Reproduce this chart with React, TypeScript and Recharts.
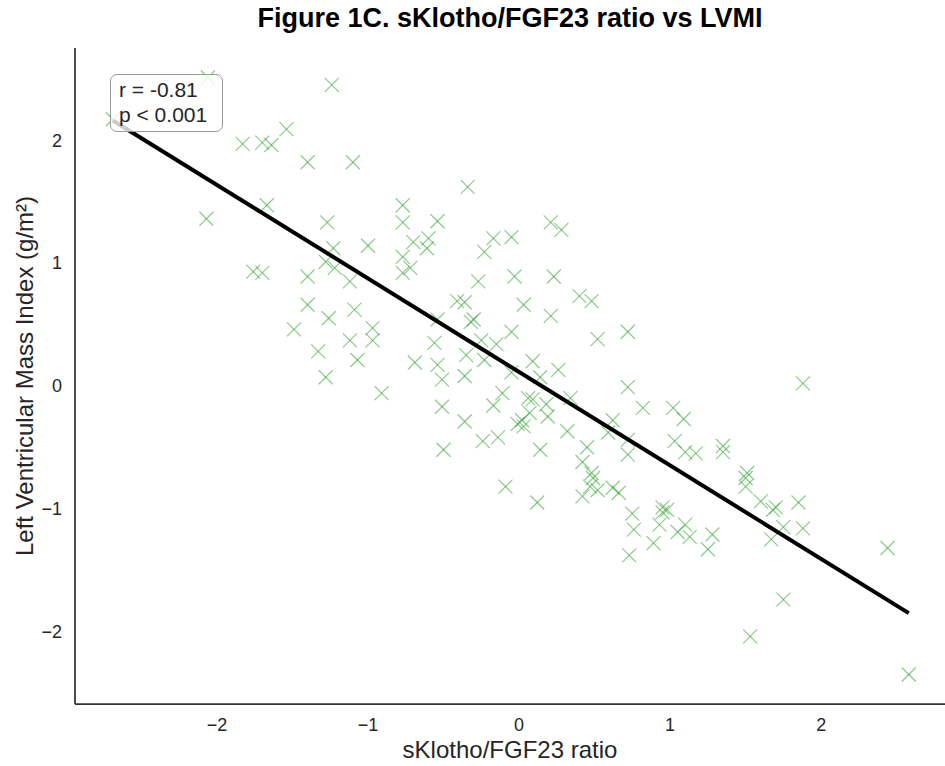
import { ScatterChart, Scatter, XAxis, YAxis } from 'recharts'

// values
const ratioX = [
  -2.06, -1.24, -2.69, -1.83, -1.70, -1.64, -1.54, -1.40, -1.10, -0.34,
  -2.07, -1.67, -1.27, -0.77, -0.77, -0.54, 0.21, 0.28, -0.17, -0.05,
  -0.70, -0.60, -0.61, -1.00, -1.23, -1.28, -1.22, -0.23, -0.77, -0.72,
  -0.77, -1.76, -1.70, -1.40, -1.12, -0.03, 0.23, -0.27, -1.40, -1.09,
  -1.26, -1.49, -1.12, -0.97, -1.33, -1.07, -1.28, -0.97, 0.40, 0.48,
  -0.41, -0.36, 0.03, 0.21, -0.30, -0.32, 0.72, 0.52, -0.05, -0.54,
  -0.56, -0.25, -0.15, -0.35, -0.23, -0.69, -0.54, 0.09, 0.26, -0.05,
  -0.36, -0.51, 0.14, -0.91, -0.11, 0.72, 0.06, 0.09, 0.34, 0.18,
  -0.51, -0.17, 0.82, 0.07, 0.19, 0.02, -0.36, -0.01, 0.62, 0.32,
  0.03, 0.59, -0.24, -0.14, 0.72, 0.45, 0.14, -0.50, 0.72, 0.42,
  0.48, 0.49, 0.47, 0.52, -0.09, 0.62, 0.66, 0.42, 0.12, 1.88,
  1.02, 1.09, 1.03, 1.10, 1.17, 1.35, 1.35, 1.51, 1.50, 1.50,
  1.60, 1.70, 1.85, 0.95, 0.95, 0.98, 0.93, 1.10, 1.05, 1.13,
  1.28, 1.25, 0.89, 1.68, 1.75, 1.88, 1.67, 2.44, 1.75, 1.53,
  2.58, 0.75, 0.76, 0.73,
]
const lvmiY = [
  2.51, 2.45, 2.17, 1.97, 1.98, 1.96, 2.09, 1.82, 1.82, 1.62,
  1.36, 1.47, 1.33, 1.47, 1.33, 1.34, 1.33, 1.27, 1.20, 1.21,
  1.17, 1.20, 1.12, 1.14, 1.12, 1.01, 0.96, 1.09, 1.05, 0.96,
  0.92, 0.93, 0.92, 0.89, 0.85, 0.89, 0.89, 0.85, 0.66, 0.62,
  0.55, 0.46, 0.37, 0.47, 0.28, 0.21, 0.07, 0.37, 0.73, 0.69,
  0.69, 0.68, 0.66, 0.57, 0.54, 0.52, 0.44, 0.38, 0.44, 0.54,
  0.35, 0.37, 0.34, 0.25, 0.21, 0.19, 0.17, 0.20, 0.13, 0.11,
  0.08, 0.05, 0.07, -0.06, -0.06, -0.01, -0.10, -0.11, -0.10, -0.15,
  -0.17, -0.16, -0.18, -0.22, -0.25, -0.28, -0.29, -0.31, -0.28, -0.37,
  -0.33, -0.38, -0.45, -0.42, -0.44, -0.50, -0.52, -0.52, -0.56, -0.62,
  -0.71, -0.75, -0.82, -0.85, -0.82, -0.83, -0.87, -0.90, -0.95, 0.02,
  -0.18, -0.27, -0.45, -0.54, -0.55, -0.49, -0.54, -0.71, -0.75, -0.82,
  -0.94, -0.99, -0.95, -0.99, -1.03, -1.01, -1.13, -1.13, -1.19, -1.23,
  -1.21, -1.33, -1.28, -1.01, -1.15, -1.16, -1.25, -1.32, -1.74, -2.04,
  -2.35, -1.04, -1.17, -1.38,
]

// fitted line end points
const fitX = [-2.69, 2.58]
const fitY = [2.16, -1.85]

const xTicks = [-2, -1, 0, 1, 2]
const yTicks = [-2, -1, 0, 1, 2]

const points = ratioX.map((x, i) => ({ x, y: lvmiY[i] }))
const fit = fitX.map((x, i) => ({ x, y: fitY[i] }))

const font = '"Liberation Sans", Arial, sans-serif'
const ink = '#262626'
const fmt = (v: number) => (v < 0 ? '\u2212' + Math.abs(v) : String(v))

function Cross(props: any) {
  const { cx, cy } = props
  const r = 7
  return (
    <g stroke="#2ca02c" strokeOpacity={0.55} strokeWidth={1.2}>
      <line x1={cx - r} y1={cy - r} x2={cx + r} y2={cy + r} />
      <line x1={cx - r} y1={cy + r} x2={cx + r} y2={cy - r} />
    </g>
  )
}

export default function App() {
  return (
    <div style={{ position: 'absolute', left: 0, top: 0, width: 945, height: 766, background: '#fff' }}>
      <div
        style={{
          position: 'absolute', left: 75, width: 870, top: 3, textAlign: 'center',
          fontFamily: font, fontWeight: 'bold', fontSize: 27, color: '#000',
        }}
      >
        Figure 1C. sKlotho/FGF23 ratio vs LVMI
      </div>
      <ScatterChart width={945} height={766} margin={{ top: 48, right: 0, bottom: 0, left: 0 }}>
        <XAxis
          type="number"
          dataKey="x"
          domain={[-2.94, 2.82]}
          ticks={xTicks}
          tickFormatter={fmt}
          allowDataOverflow
          height={62}
          tickLine={false}
          tickMargin={8}
          axisLine={{ stroke: '#333', strokeWidth: 1.75 }}
          tick={{ fill: ink, fontSize: 18, fontFamily: font }}
          label={{ value: 'sKlotho/FGF23 ratio', position: 'center', dy: 14, fill: ink, fontSize: 24, fontFamily: font }}
        />
        <YAxis
          type="number"
          dataKey="y"
          domain={[-2.59, 2.75]}
          ticks={yTicks}
          tickFormatter={fmt}
          allowDataOverflow
          width={75}
          tickLine={false}
          tickMargin={7}
          axisLine={{ stroke: '#333', strokeWidth: 1.75 }}
          tick={{ fill: ink, fontSize: 18, fontFamily: font }}
          label={{
            value: 'Left Ventricular Mass Index (g/m\u00b2)', angle: -90, position: 'center', dx: -13,
            fill: ink, fontSize: 24, fontFamily: font,
          }}
        />
        <Scatter data={points} shape={<Cross />} isAnimationActive={false} />
        <Scatter
          data={fit}
          line={{ stroke: '#000', strokeWidth: 4 }}
          shape={() => <g />}
          isAnimationActive={false}
        />
      </ScatterChart>
      <div
        style={{
          position: 'absolute', left: 110, top: 74, width: 113, height: 58,
          border: '1.5px solid #999', borderRadius: 7, background: 'rgba(255,255,255,0.8)',
          fontFamily: font, fontSize: 21, color: ink, lineHeight: '25px', padding: '2px 0 0 8px',
          boxSizing: 'border-box', whiteSpace: 'nowrap',
        }}
      >
        r = -0.81
        <br />
        p &lt; 0.001
      </div>
    </div>
  )
}
